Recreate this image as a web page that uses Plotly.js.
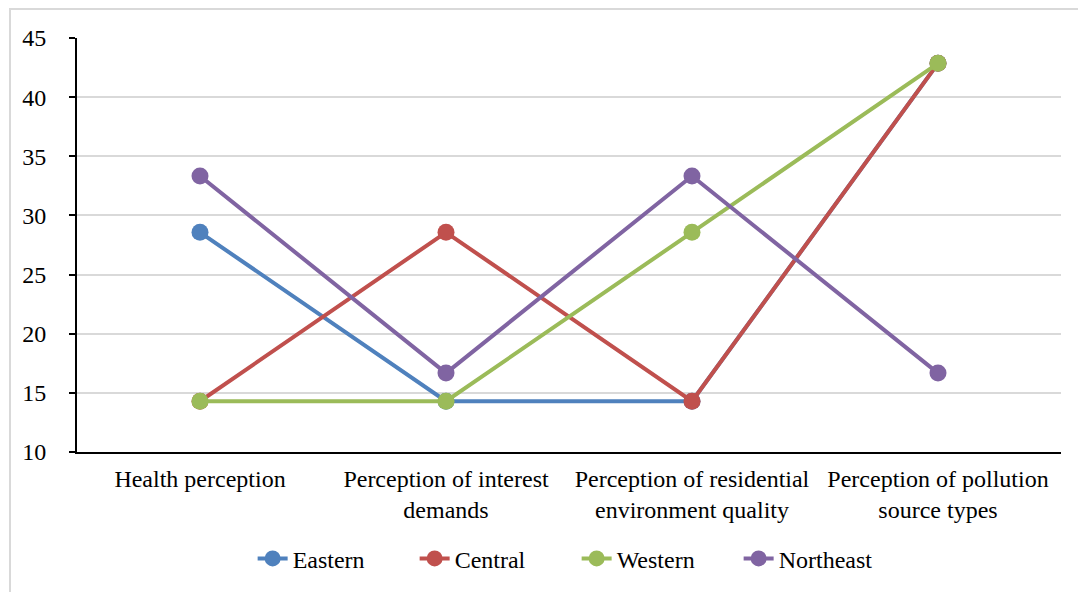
<!DOCTYPE html>
<html>
<head>
<meta charset="utf-8">
<script src="https://cdn.plot.ly/plotly-3.0.1.min.js"></script>
<style>
html,body{margin:0;padding:0;background:#fff;}
#frame{position:absolute;left:9px;top:8px;width:1100px;height:600px;border-left:2px solid #d9d9d9;border-top:2px solid #d9d9d9;}
#chart{position:absolute;left:0;top:0;width:1078px;height:592px;}
</style>
</head>
<body>
<div id="frame"></div>
<div id="chart"></div>
<script>
const categories = [
  "Health perception",
  "Perception of interest<br>demands",
  "Perception of residential<br>environment quality",
  "Perception of pollution<br>source types"
];
const seriesNames = ["Eastern", "Central", "Western", "Northeast"];
const eastern   = [28.57, 14.29, 14.29, 42.86];
const central   = [14.29, 28.57, 14.29, 42.86];
const western   = [14.29, 14.29, 28.57, 42.86];
const northeast = [33.33, 16.67, 33.33, 16.67];
const colors = ["#4F81BD", "#C0504D", "#9BBB59", "#8064A2"];
const yTicks = [10, 15, 20, 25, 30, 35, 40, 45];

const values = [eastern, central, western, northeast];
const traces = values.map((v, i) => ({
  type: "scatter",
  mode: "lines+markers",
  name: seriesNames[i],
  x: categories,
  y: v,
  line: {color: colors[i], width: 4},
  marker: {color: colors[i], size: 17}
}));

const font = {family: "Liberation Serif", size: 24, color: "#000"};

const layout = {
  width: 1078,
  height: 592,
  paper_bgcolor: "rgba(0,0,0,0)",
  plot_bgcolor: "rgba(0,0,0,0)",
  font: font,
  showlegend: true,
  margin: {l: 77, r: 17, t: 38, b: 139},
  xaxis: {
    type: "category",
    showgrid: false,
    showline: true,
    linecolor: "#000",
    linewidth: 2,
    ticks: "",
    tickfont: font,
    ticklabelstandoff: 4,
    range: [-0.5, 3.5]
  },
  yaxis: {
    range: [10, 45],
    tickvals: yTicks,
    ticktext: yTicks.map(String),
    showgrid: true,
    gridcolor: "#d9d9d9",
    gridwidth: 2,
    zeroline: false,
    showline: true,
    linecolor: "#000",
    linewidth: 2,
    ticks: "outside",
    ticklen: 6,
    tickwidth: 2,
    tickcolor: "#000",
    tickfont: font,
    ticklabelstandoff: 18
  },
  legend: {
    orientation: "h",
    x: 0.1785,
    xanchor: "left",
    y: -0.255,
    yanchor: "middle",
    font: font,
    itemwidth: 30,
    entrywidth: 117,
    entrywidthmode: "pixels",
    bgcolor: "rgba(0,0,0,0)"
  }
};

Plotly.newPlot("chart", traces, layout, {displayModeBar: false, staticPlot: true});
</script>
</body>
</html>
